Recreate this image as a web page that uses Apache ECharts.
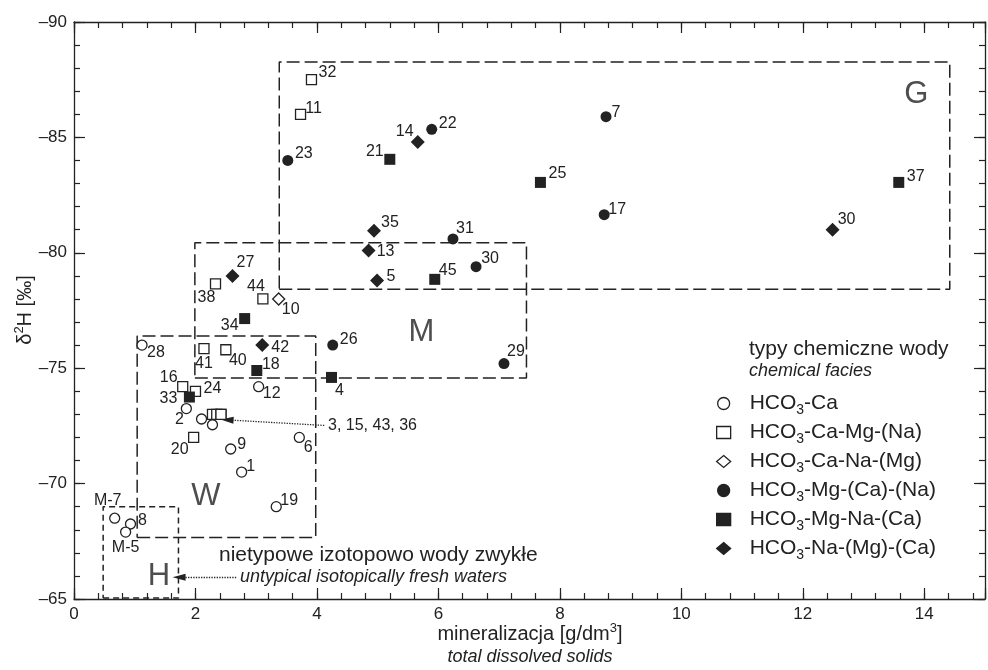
<!DOCTYPE html>
<html><head><meta charset="utf-8">
<script src="https://cdn.jsdelivr.net/npm/echarts@6/dist/echarts.min.js"></script>
<style>html,body{margin:0;padding:0;background:#fff}#c{width:988px;height:670px}</style>
</head><body><div id="c"></div>
<script>
// ---------- data ----------
const seriesNames = ['HCO3-Ca', 'HCO3-Ca-Mg-(Na)', 'HCO3-Ca-Na-(Mg)', 'HCO3-Mg-(Ca)-(Na)', 'HCO3-Mg-Na-(Ca)', 'HCO3-Na-(Mg)-(Ca)'];
// [sample id, mineralization g/dm3, δ2H ‰]
const caPoints = [
  ['28', 1.12, -76.0], ['2', 1.85, -73.25], ['', 2.10, -72.8], ['', 2.28, -72.55],
  ['9', 2.58, -71.5], ['1', 2.76, -70.5], ['12', 3.04, -74.2], ['6', 3.71, -72.0],
  ['19', 3.33, -69.0], ['M-7', 0.67, -68.5], ['8', 0.93, -68.25], ['M-5', 0.85, -67.9]
];
const caMgPoints = [
  ['32', 3.91, -87.5], ['11', 3.73, -86.0], ['38', 2.33, -78.65], ['44', 3.11, -78.0],
  ['41', 2.14, -75.85], ['40', 2.50, -75.8], ['16', 1.79, -74.2], ['24', 2.00, -74.0],
  ['20', 1.97, -72.0], ['3', 2.28, -73.0], ['15', 2.35, -73.0], ['43', 2.42, -73.0], ['36', 2.42, -73.0]
];
const caNaPoints = [['10', 3.37, -78.0]];
const mgCaPoints = [
  ['23', 3.52, -84.0], ['22', 5.89, -85.35], ['7', 8.76, -85.9], ['17', 8.73, -81.65],
  ['31', 6.24, -80.6], ['30', 6.62, -79.4], ['26', 4.26, -76.0], ['29', 7.08, -75.2]
];
const mgNaPoints = [
  ['21', 5.20, -84.05], ['25', 7.68, -83.05], ['37', 13.58, -83.05], ['45', 5.94, -78.85],
  ['34', 2.81, -77.15], ['18', 3.01, -74.9], ['4', 4.24, -74.6], ['33', 1.90, -73.75]
];
const naPoints = [
  ['14', 5.66, -84.8], ['35', 4.94, -80.95], ['13', 4.85, -80.1], ['5', 4.99, -78.8],
  ['30', 12.49, -81.0], ['27', 2.61, -79.0], ['42', 3.10, -76.0]
];
// field boxes [xMin, xMax, yMin, yMax]
const boxG = [3.38, 14.42, -88.27, -78.42];
const boxM = [1.99, 7.45, -80.44, -74.58];
const boxW = [1.04, 3.98, -76.39, -67.67];
const boxH = [0.48, 1.72, -69.0, -65.04];
const boxLabels = [['G', 13.87, -86.84], ['M', 5.72, -76.53], ['W', 2.17, -69.43], ['H', 1.40, -65.96]];
// arrows [from, to]
const arrowGroup = [[4.12, -72.52], [2.52, -72.76]];
const arrowH = [[2.67, -65.94], [1.73, -65.94]];

// ---------- label placement (px offsets from marker centre) ----------
const labelOffsets = [
  {'28':[14,7],'2':[-7,11],'9':[11,-4],'1':[9,-5],'12':[13,7],'6':[9,10],'19':[13,-6],'M-7':[-7,-18],'8':[12,-3],'M-5':[0,16]},
  {'32':[16,-7],'11':[13,-6],'38':[-9,14],'44':[-7,-12],'41':[0,15],'40':[12,11],'16':[-14,-9],'24':[17,-3],'20':[-14,12]},
  {'10':[12,11]},
  {'23':[16,-7],'22':[16,-6],'7':[10,-4],'17':[13,-5],'31':[12,-10],'30':[14,-8],'26':[16,-6],'29':[12,-12]},
  {'21':[-15,-8],'25':[17,-9],'37':[17,-6],'45':[13,-9],'34':[-15,7],'18':[14,-6],'4':[8,13],'33':[-21,2]},
  {'14':[-13,-10],'35':[16,-8],'13':[17,1],'5':[14,-4],'30':[14,-10],'27':[13,-13],'42':[18,2]}
];

// ---------- styling ----------
const FONT = "'Liberation Sans', Arial, Helvetica, sans-serif";
const INK = '#222';
const pointSets = [caPoints, caMgPoints, caNaPoints, mgCaPoints, mgNaPoints, naPoints];
const symbolStyles = [
  {symbol:'circle', size:10, open:true},
  {symbol:'rect', size:10, open:true},
  {symbol:'diamond', size:12, open:true},
  {symbol:'circle', size:11, open:false},
  {symbol:'rect', size:11, open:false},
  {symbol:'diamond', size:14, open:false}
];

const pointSeries = pointSets.map((pts, i) => {
  const st = symbolStyles[i];
  return {
    name: seriesNames[i], type: 'scatter', z: 5, silent: true,
    symbol: st.symbol, symbolSize: st.size,
    itemStyle: st.open ? {color:'#fff', borderColor:INK, borderWidth:1.3, opacity:1}
                       : {color:INK, borderColor:INK, borderWidth:0, opacity:1},
    label: {show:true, position:'inside', formatter:'{b}', fontSize:16, color:INK, fontFamily:FONT},
    data: pts.map(p => {
      const off = labelOffsets[i][p[0]];
      return {name:p[0], value:[p[1], p[2]], label: off ? {show:true, offset:off} : {show:false}};
    })
  };
});

function boxSeries(b, dash) {
  return {
    type:'line', silent:true, z:1, symbol:'none', animation:false,
    lineStyle:{color:INK, width:1.5, type:dash},
    data:[[b[0],b[3]],[b[1],b[3]],[b[1],b[2]],[b[0],b[2]],[b[0],b[3]]]
  };
}
const arrowSeries = boxSeries(boxW, [13,5]);
arrowSeries.markLine = {
  silent:true, animation:false, symbol:['none','triangle'], symbolSize:10,
  label:{show:false},
  lineStyle:{type:'dotted', color:INK, width:1.3},
  itemStyle:{color:INK},
  emphasis:{disabled:true},
  data:[
    [{coord:arrowGroup[0]}, {coord:arrowGroup[1], symbolSize:[7,13]}],
    [{coord:arrowH[0]}, {coord:arrowH[1], symbolSize:[7,13]}]
  ]
};

const labelSeries = {
  type:'scatter', silent:true, z:3, symbolSize:1, itemStyle:{color:'rgba(0,0,0,0)'},
  label:{show:true, position:'inside', formatter:'{b}', fontSize:31, color:INK, fontFamily:FONT},
  data: boxLabels.map(l => ({name:l[0], value:[l[1], l[2]]}))
};

const lineCol = {color:INK, width:1.3};
function xAx(pos, interval, len, main) {
  return {
    type:'value', position:pos, min:0, max:15, interval:interval,
    axisLine:{show:main, onZero:false, lineStyle:lineCol},
    axisTick:{show:true, inside:true, length:len, lineStyle:{color:INK, width:1.2}},
    axisLabel:{show:main && pos==='bottom', margin:7, fontSize:17, color:INK, fontFamily:FONT,
               formatter: v => (Math.abs(v % 2) < 1e-9 ? String(v) : '')},
    splitLine:{show:false}
  };
}
function yAx(pos, interval, len, main) {
  return {
    type:'value', position:pos, min:-90, max:-65, inverse:true, interval:interval,
    axisLine:{show:main, onZero:false, lineStyle:lineCol},
    axisTick:{show:true, inside:true, length:len, lineStyle:{color:INK, width:1.2}},
    axisLabel:{show:main && pos==='left', margin:7, fontSize:17, color:INK, fontFamily:FONT,
               formatter: v => (v < 0 ? '\u2013' : '') + Math.abs(v)},
    splitLine:{show:false}
  };
}

const richA = (size) => ({fontSize:size, fontFamily:FONT, fill:INK, lineHeight:size+4});
const option = {
  animation:false,
  backgroundColor:'#fff',
  grid:{left:74, top:22, width:915, height:577},
  xAxis:[xAx('bottom',2,11,true), xAx('bottom',0.4,6,false), xAx('top',2,11,true), xAx('top',0.4,6,false)],
  yAxis:[yAx('left',5,11,true), yAx('left',1,6,false), yAx('right',5,11,true), yAx('right',1,6,false)],
  legend:{
    orient:'vertical', left:716, top:393, padding:0, itemWidth:14, itemHeight:12, itemGap:5,
    selectedMode:false, data:seriesNames,
    itemStyle:{borderColor:INK, borderWidth:1.3},
    formatter: n => '{a|HCO}{s|3}{a|' + n.slice(4) + '}',
    textStyle:{color:INK, padding:[0,0,0,14], rich:{
      a:{fontSize:21, lineHeight:27, fontFamily:FONT, color:INK},
      s:{fontSize:14, lineHeight:14, verticalAlign:'bottom', fontFamily:FONT, color:INK}
    }}
  },
  graphic:[
    {type:'text', x:328, y:426, style:{text:'3, 15, 43, 36', font:'16px '+FONT, fill:INK, verticalAlign:'middle'}},
    {type:'text', x:219, y:555, style:{text:'nietypowe izotopowo wody zwykłe', font:'21px '+FONT, fill:INK, verticalAlign:'middle'}},
    {type:'text', x:240, y:577, style:{text:'untypical isotopically fresh waters', font:'italic 18px '+FONT, fill:INK, verticalAlign:'middle'}},
    {type:'text', x:749, y:349, style:{text:'typy chemiczne wody', font:'21px '+FONT, fill:INK, verticalAlign:'middle'}},
    {type:'text', x:749, y:371, style:{text:'chemical facies', font:'italic 18px '+FONT, fill:INK, verticalAlign:'middle'}},
    {type:'text', x:530, y:634, style:{text:'{a|mineralizacja [g/dm}{s|3}{a|]}', align:'center', verticalAlign:'middle',
      rich:{a:richA(20), s:{fontSize:13, fontFamily:FONT, fill:INK, lineHeight:13, verticalAlign:'top'}}}},
    {type:'text', x:530, y:657, style:{text:'total dissolved solids', font:'italic 18px '+FONT, fill:INK, align:'center', verticalAlign:'middle'}},
    {type:'text', x:25, y:310, rotation:Math.PI/2, style:{text:'{a|\u03b4}{s|2}{a|H [\u2030]}', align:'center', verticalAlign:'middle',
      rich:{a:richA(20), s:{fontSize:13, fontFamily:FONT, fill:INK, lineHeight:13, verticalAlign:'top'}}}}
  ],
  series:[
    boxSeries(boxG,[13,5]), boxSeries(boxM,[13,5]), arrowSeries, boxSeries(boxH,[6,4]),
    labelSeries
  ].concat(pointSeries)
};
const chart = echarts.init(document.getElementById('c'), null, {renderer:'canvas'});
chart.setOption(option);
</script></body></html>
